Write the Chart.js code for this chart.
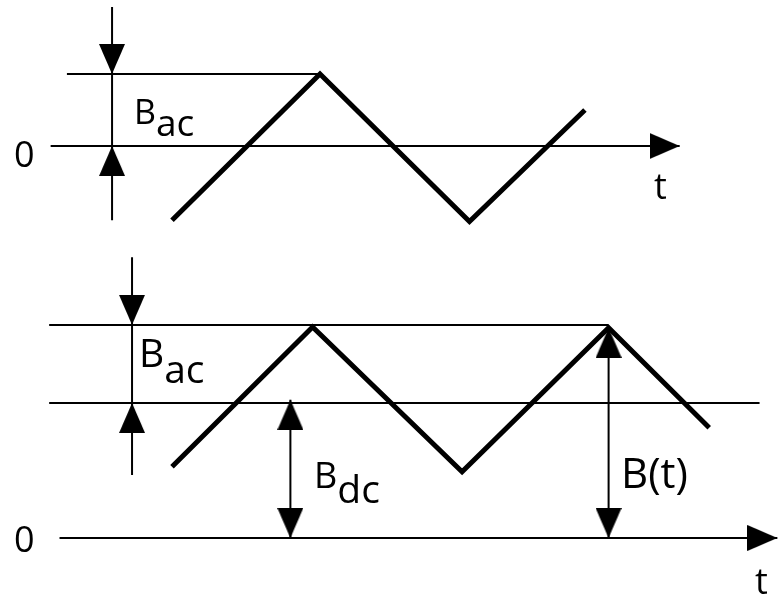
<!DOCTYPE html>
<html>
<head>
<meta charset="utf-8">
<script src="https://cdn.jsdelivr.net/npm/chart.js@4.4.1/dist/chart.umd.min.js"></script>
<style>
html,body{margin:0;padding:0;background:#fff;}
#wrap{position:relative;width:779px;height:598px;overflow:hidden;background:#fff;}
#c{position:absolute;left:0;top:0;}
.lbl{position:absolute;font-family:"Open Sans",sans-serif;line-height:1;color:#000;white-space:nowrap;}
.lbl span{position:relative;}
</style>
</head>
<body>
<div id="wrap">
<canvas id="c" width="779" height="598"></canvas>
<div class="lbl" style="left:14px;top:136px;font-size:36px">0</div>
<div class="lbl" style="left:654px;top:168px;font-size:36px">t</div>
<div class="lbl" style="left:134px;top:91px;font-size:34px">B<span style="top:12px;font-size:37px">ac</span></div>
<div class="lbl" style="left:14px;top:521px;font-size:36px">0</div>
<div class="lbl" style="left:755px;top:563px;font-size:36px">t</div>
<div class="lbl" style="left:139px;top:332px;font-size:39px">B<span style="top:16px">ac</span></div>
<div class="lbl" style="left:314px;top:453px;font-size:36px">B<span style="top:15px;font-size:39px">dc</span></div>
<div class="lbl" style="left:621px;top:451px;font-size:42px">B(t)</div>
</div>
<script>
// ---- Upper diagram: pure AC flux (t in half-periods, B in units of B_ac) ----
const topWaveT = [1.0, 2.0, 3.01, 3.79];
const topWaveB = [-1.03, 1.0, -1.05, 0.5];
const topAcLevel = 1.0;
const topAcLineT = [0.29, 2.0];
const topZeroAxisT = [0.18, 4.43];
const topAcArrowT = 0.595;
const topAcArrowB = [1.93, -1.03];

// ---- Lower diagram: AC flux on a DC bias ----
const botWaveT = [1.0, 1.95, 2.96, 3.95, 4.63];
const botWaveB = [0.99, 2.93, 0.92, 2.92, 1.53];
const botPeakLevel = 2.96;
const botDcLevel = 1.875;
const botPeakLineT = [0.17, 3.95];
const botDcLineT = [0.17, 4.97];
const botZeroAxisT = [0.24, 5.09];
const botAcArrowT = 0.73;
const botAcArrowB = [3.90, 0.875];
const botDcArrowT = 1.80;
const botDcArrowTipB = 1.92;
const botBtArrowT = 3.95;
const botBtArrowTipB = 2.92;

// arrowhead marker (tip at the centre of the image, pointing up)
function makeArrowHead(w, l) {
  const cv = document.createElement('canvas');
  cv.width = w; cv.height = 2 * l;
  const g = cv.getContext('2d');
  g.fillStyle = '#000';
  g.beginPath();
  g.moveTo(w / 2, l);
  g.lineTo(w, 2 * l);
  g.lineTo(0, 2 * l);
  g.closePath();
  g.fill();
  return cv;
}
const arrowImg = makeArrowHead(26, 30);

function pts(ts, bs) { return ts.map((t, i) => ({x: t, y: bs[i]})); }
function line(data, axis, width) {
  return {type: 'line', data, yAxisID: axis, borderColor: '#000', borderWidth: width,
    pointRadius: 0, fill: false, tension: 0, clip: false,
    borderJoinStyle: 'miter', borderCapStyle: 'butt'};
}
function heads(data, axis, rots) {
  return {type: 'scatter', data, yAxisID: axis, pointStyle: arrowImg,
    pointRotation: rots, pointRadius: 15, clip: false, showLine: false};
}

const datasets = [
  // upper
  line(pts(topWaveT, topWaveB), 'yTop', 5),
  line(pts(topAcLineT, [topAcLevel, topAcLevel]), 'yTop', 2),
  line(pts(topZeroAxisT, [0, 0]), 'yTop', 2),
  line(pts([topAcArrowT, topAcArrowT], topAcArrowB), 'yTop', 2),
  heads([{x: topAcArrowT, y: topAcLevel}, {x: topAcArrowT, y: 0}, {x: topZeroAxisT[1], y: 0}],
        'yTop', [180, 0, 90]),
  // lower
  line(pts(botWaveT, botWaveB), 'yBot', 5),
  line(pts(botPeakLineT, [botPeakLevel, botPeakLevel]), 'yBot', 2),
  line(pts(botDcLineT, [botDcLevel, botDcLevel]), 'yBot', 2),
  line(pts(botZeroAxisT, [0, 0]), 'yBot', 2),
  line(pts([botAcArrowT, botAcArrowT], botAcArrowB), 'yBot', 2),
  line(pts([botDcArrowT, botDcArrowT], [botDcArrowTipB, 0]), 'yBot', 2),
  line(pts([botBtArrowT, botBtArrowT], [botBtArrowTipB, 0]), 'yBot', 2),
  heads([{x: botAcArrowT, y: botPeakLevel}, {x: botAcArrowT, y: botDcLevel},
         {x: botDcArrowT, y: botDcArrowTipB}, {x: botDcArrowT, y: 0},
         {x: botBtArrowT, y: botBtArrowTipB}, {x: botBtArrowT, y: 0},
         {x: botZeroAxisT[1], y: 0}],
        'yBot', [180, 0, 0, 180, 0, 180, 90])
];

// view window (one unit of t = 148 px, one unit of B = 72 px)
const W = 779, H = 598, tPx = 148, bPx = 72;
const xMin = -24 / tPx, xMax = (W - 24) / tPx;
const yTopMax = 146 / bPx, yTopMin = yTopMax - H / bPx;
const yBotMax = 538 / bPx, yBotMin = yBotMax - H / bPx;

new Chart(document.getElementById('c'), {
  type: 'scatter',
  data: {datasets},
  options: {
    responsive: false, animation: false, devicePixelRatio: 1, events: [],
    layout: {padding: 0, autoPadding: false},
    plugins: {legend: {display: false}, tooltip: {enabled: false}, title: {display: false}},
    scales: {
      x: {type: 'linear', min: xMin, max: xMax, display: false},
      yTop: {type: 'linear', axis: 'y', min: yTopMin, max: yTopMax, display: false},
      yBot: {type: 'linear', axis: 'y', min: yBotMin, max: yBotMax, display: false}
    }
  }
});
</script>
</body>
</html>
